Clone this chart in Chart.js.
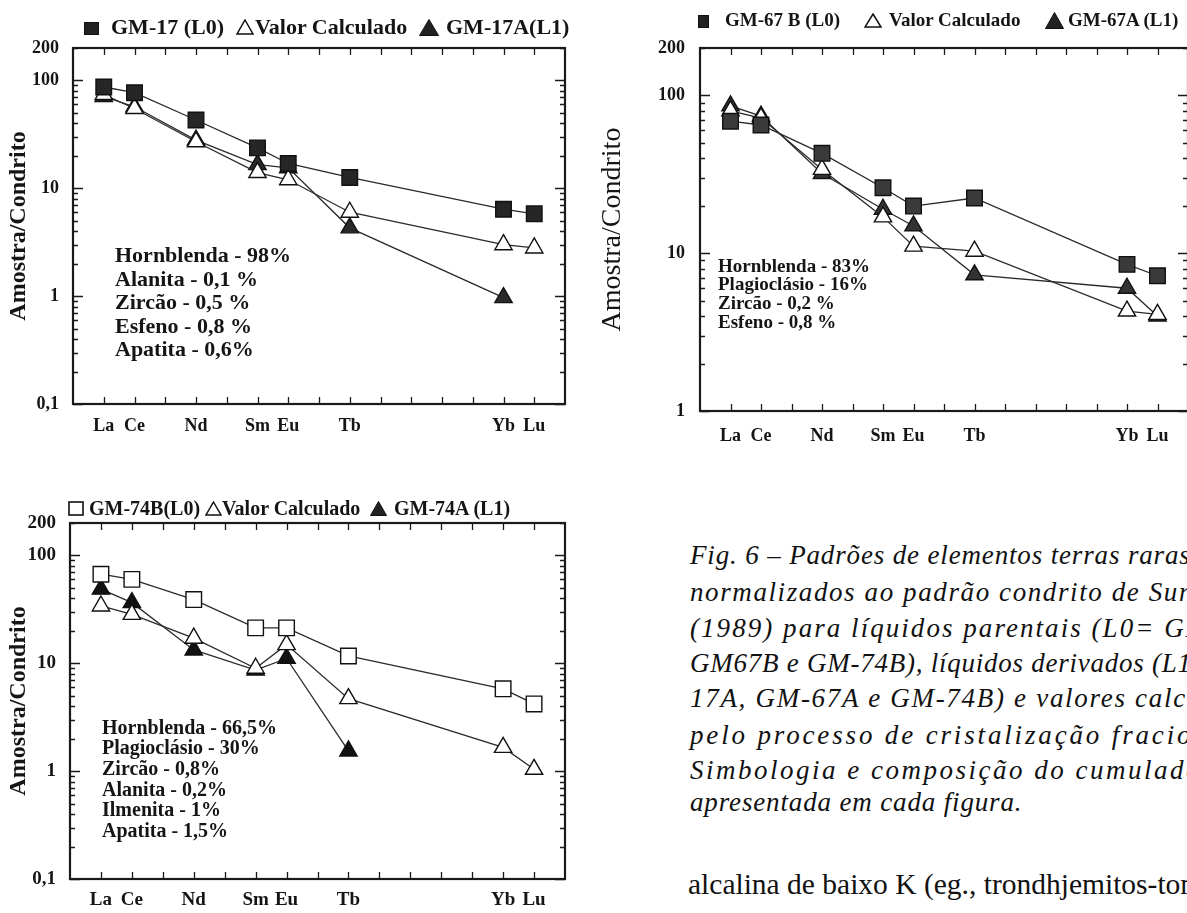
<!DOCTYPE html>
<html><head><meta charset="utf-8">
<script src="https://cdn.jsdelivr.net/npm/chart.js@4.4.1/dist/chart.umd.min.js"></script>
<style>
html,body{margin:0;padding:0;background:#fff;overflow:hidden;width:1187px;height:913px;position:relative;}
canvas{position:absolute;}
.lgt{position:absolute;font-family:"Liberation Serif",serif;font-weight:bold;white-space:nowrap;color:#151515;}
.mk{position:absolute;}
.note{position:absolute;font-family:"Liberation Serif",serif;font-weight:bold;white-space:nowrap;color:#151515;}
.cap{position:absolute;left:690px;font-family:"Liberation Serif",serif;font-style:italic;font-size:27px;line-height:35px;white-space:nowrap;color:#111;}
.body{position:absolute;left:688px;font-family:"Liberation Serif",serif;font-size:29.5px;line-height:35px;white-space:nowrap;color:#111;}
</style></head><body>
<canvas id="c17" width="600" height="450" style="left:0;top:0"></canvas>
<canvas id="c67" width="610" height="455" style="left:592px;top:0"></canvas>
<canvas id="c74" width="600" height="453" style="left:0;top:460px"></canvas>
<div id="overlay"></div>
<script>
// ---------- data ----------
const elements = ['La','Ce','Nd','Sm','Eu','Tb','Yb','Lu'];
const atomicNumbers = [57,58,60,62,63,65,70,71];
const xTickValues = [57,58,59,60,61,62,63,64,65,66,67,68,69,70,71];

// GM-17 (top left)
const labels17 = ['GM-17 (L0)','Valor Calculado','GM-17A(L1)'];
const gm17_L0   = [87, 77, 43, 23.7, 17, 12.6, 6.4, 5.8];
const gm17_calc = [74, 55, 27, 14, 12, 6.0, 3.0, 2.8];
const gm17A_L1  = [71, 57, 28, 16.6, 15.5, 4.3, 0.97, null];
const notes17 = ['Hornblenda - 98%','Alanita - 0,1  %','Zircão - 0,5 %','Esfeno - 0,8 %','Apatita - 0,6%'];

// GM-67 (top right)
const labels67 = ['GM-67 B (L0)','Valor Calculado','GM-67A (L1)'];
const gm67B_L0  = [68.7, 65, 43, 26, 19.9, 22.4, 8.5, 7.2];
const gm67_calc = [80, 72, 34, 17, 11.1, 10.3, 4.3, 4.1];
const gm67A_L1  = [86, 74, 32, 19, 14.9, 7.3, 6.0, 4.0];
const notes67 = ['Hornblenda - 83%','Plagioclásio - 16%','Zircão - 0,2 %','Esfeno - 0,8 %'];

// GM-74 (bottom left)
const labels74 = ['GM-74B(L0)','Valor Calculado','GM-74A (L1)'];
const gm74B_L0  = [67, 60, 39, 21.3, 21.3, 11.7, 5.8, 4.2];
const gm74_calc = [34, 28.4, 17.1, 9.0, 14.9, 4.7, 1.66, 1.04];
const gm74A_L1  = [48.7, 36.5, 13.3, 8.66, 11.1, 1.54, null, null];
const notes74 = ['Hornblenda - 66,5%','Plagioclásio - 30%','Zircão - 0,8%','Alanita - 0,2%','Ilmenita - 1%','Apatita - 1,5%'];

const yTicksA = [0.1, 1, 10, 100, 200];
const yLabelsA = ['0,1','1','10','100','200'];
const yTicksB = [1, 10, 100, 200];
const yLabelsB = ['1','10','100','200'];

const yTitle = 'Amostra/Condrito';

const captionLines = [
 'Fig. 6 – Padrões de elementos terras raras',
 'normalizados ao padrão condrito de Sun &',
 '(1989) para líquidos parentais (L0= GM-17,',
 'GM67B e GM-74B), líquidos derivados (L1= GM-',
 '17A, GM-67A e GM-74B) e valores calculados',
 'pelo processo de cristalização fracionada.',
 'Simbologia e composição do cumulado é',
 'apresentada em cada figura.'
];
const bodyLine = 'alcalina de baixo K (eg., trondhjemitos-tonalitos';

// ---------- helpers ----------
const pts = vals => atomicNumbers.map((x,i)=>({x:x, y:vals[i]})).filter(p=>p.y!=null);

const frameTicks = {
  id:'frameTicks',
  beforeDatasetsDraw(chart){
    const {ctx, chartArea:a, scales:{x,y}} = chart;
    ctx.save();
    ctx.strokeStyle='#1a1a1a';
    ctx.lineWidth=1.3;
    ctx.beginPath();
    const lo=Math.floor(Math.log10(y.min)+1e-9), hi=Math.ceil(Math.log10(y.max)-1e-9);
    for(let d=lo; d<hi; d++){
      for(let m=1;m<=9;m++){
        const v=m*Math.pow(10,d);
        if(v<y.min*0.999||v>y.max*1.001) continue;
        const py=Math.round(y.getPixelForValue(v))+0.5;
        const len = m===1?10:5;
        ctx.moveTo(a.left,py); ctx.lineTo(a.left+len,py);
        ctx.moveTo(a.right,py); ctx.lineTo(a.right-len,py);
      }
    }
    x.ticks.forEach(t=>{
      const px=Math.round(x.getPixelForValue(t.value))+0.5;
      ctx.moveTo(px,a.bottom); ctx.lineTo(px,a.bottom-7);
      ctx.moveTo(px,a.top); ctx.lineTo(px,a.top+7);
    });
    ctx.stroke();
    ctx.lineWidth=2.2;
    ctx.strokeRect(a.left,a.top,a.right-a.left,a.bottom-a.top);
    ctx.restore();
  }
};

function ds(label, vals, style, fill, radius){
  return {
    label:label, data:pts(vals),
    borderColor:'#2a2a2a', borderWidth:1.3,
    pointStyle:style, pointRadius:radius, pointHoverRadius:radius,
    pointBackgroundColor:fill, pointBorderColor:'#111', pointBorderWidth:1.4,
    fill:false, tension:0
  };
}

function makeChart(id, cfg){
  new Chart(document.getElementById(id), {
    type:'line',
    data:{datasets:cfg.datasets},
    plugins:[frameTicks],
    options:{
      responsive:false, animation:false, devicePixelRatio:1,
      layout:{padding:{top:cfg.padTop, right:cfg.padRight, left:0, bottom:0}},
      plugins:{legend:{display:false}, tooltip:{enabled:false}},
      scales:{
        x:{type:'linear', min:56, max:72,
          afterBuildTicks:s=>{s.ticks = xTickValues.map(v=>({value:v}));},
          afterFit:s=>{s.height = cfg.bottomH;},
          grid:{display:false, drawTicks:false}, border:{display:false},
          ticks:{autoSkip:false, maxRotation:0, padding:cfg.xPad, color:'#151515',
            font:{family:'"Liberation Serif", serif', size:cfg.xFont, weight:'bold'},
            callback:(v)=>{const i=atomicNumbers.indexOf(v); return i>=0?elements[i]:'';}}
        },
        y:{type:'logarithmic', min:cfg.yTicks[0], max:200,
          afterBuildTicks:s=>{s.ticks = cfg.yTicks.map(v=>({value:v}));},
          afterFit:s=>{s.width = cfg.leftW;},
          grid:{display:false, drawTicks:false}, border:{display:false},
          ticks:{padding:cfg.yPad, color:'#151515',
            font:{family:'"Liberation Serif", serif', size:cfg.yFont, weight:'bold'},
            callback:(v)=>{const i=cfg.yTicks.indexOf(v); return i>=0?cfg.yLabels[i]:'';}},
          title:{display:true, text:yTitle, color:'#151515', padding:{top:4,bottom:4},
            font:{family:'"Liberation Serif", serif', size:cfg.titleSize, weight:cfg.titleWeight}}
        }
      }
    }
  });
}

makeChart('c17', {
  datasets:[
    ds(labels17[0], gm17_L0, 'rect', '#262626', 11),
    ds(labels17[1], gm17_calc, 'triangle', '#ffffff', 10),
    ds(labels17[2], gm17A_L1, 'triangle', '#2a2a2a', 10)
  ],
  padTop:48, padRight:35, bottomH:46, leftW:73, xPad:12, yPad:14,
  xFont:18, yFont:18, titleSize:24, titleWeight:'bold', yTicks:yTicksA, yLabels:yLabelsA
});
makeChart('c67', {
  datasets:[
    ds(labels67[0], gm67B_L0, 'rect', '#3a3a3a', 11),
    ds(labels67[1], gm67_calc, 'triangle', '#ffffff', 10),
    ds(labels67[2], gm67A_L1, 'triangle', '#333333', 10)
  ],
  padTop:48, padRight:14, bottomH:44, leftW:108, xPad:15, yPad:15,
  xFont:18, yFont:18, titleSize:28, titleWeight:'normal', yTicks:yTicksB, yLabels:yLabelsB
});
makeChart('c74', {
  datasets:[
    ds(labels74[0], gm74B_L0, 'rect', '#ffffff', 11),
    ds(labels74[1], gm74_calc, 'triangle', '#ffffff', 10),
    ds(labels74[2], gm74A_L1, 'triangle', '#111111', 10)
  ],
  padTop:63, padRight:35, bottomH:34, leftW:70, xPad:10, yPad:14,
  xFont:19, yFont:19, titleSize:24, titleWeight:'bold', yTicks:yTicksA, yLabels:yLabelsA
});

// ---------- legends / notes / caption (HTML text) ----------
const ov = document.getElementById('overlay');
function marker(kind, left, cy, w, h){
  let inner='';
  if(kind==='sqFill') inner=`<rect x="0.5" y="0.5" width="${w-1}" height="${h-1}" fill="#222" stroke="#111"/>`;
  if(kind==='sqOpen') inner=`<rect x="1" y="1" width="${w-2}" height="${h-2}" fill="#fff" stroke="#111" stroke-width="1.6"/>`;
  if(kind==='triOpen') inner=`<polygon points="${w/2},1 ${w-1},${h-1} 1,${h-1}" fill="#fff" stroke="#111" stroke-width="1.5"/>`;
  if(kind==='triFill') inner=`<polygon points="${w/2},0.5 ${w-0.5},${h-0.5} 0.5,${h-0.5}" fill="#222" stroke="#111" stroke-width="1"/>`;
  const d=document.createElement('div');
  d.className='mk'; d.style.left=left+'px'; d.style.top=(cy-h/2)+'px';
  d.innerHTML=`<svg width="${w}" height="${h}">${inner}</svg>`;
  ov.appendChild(d);
}
function text(cls, str, left, cy, size, lh){
  const d=document.createElement('div');
  d.className=cls; d.textContent=str;
  d.style.left=left+'px'; d.style.top=(cy-lh/2)+'px';
  d.style.fontSize=size+'px'; d.style.lineHeight=lh+'px';
  ov.appendChild(d);
}
function legend(labels, kinds, marks, texts, cy, size){
  for(let i=0;i<3;i++){
    marker(kinds[i], marks[i][0], cy, marks[i][1], marks[i][2]);
    text('lgt', labels[i], texts[i], cy, size, size*1.2);
  }
}
legend(labels17, ['sqFill','triOpen','triFill'], [[84,15,13],[236,18,16],[419,20,17]], [111,255,446], 27, 22);
legend(labels67, ['sqFill','triOpen','triFill'], [[698,11,13],[864,18,15],[1045,19,17]], [725,889,1068], 20, 19);
legend(labels74, ['sqOpen','triOpen','triFill'], [[68,16,15],[205,17,15],[370,17,15]], [89,222,394], 508, 20);

function notes(arr, left, cy0, lh, size){
  arr.forEach((s,i)=>text('note', s, left, cy0+i*lh, size, lh));
}
notes(notes17, 115, 255, 23.5, 22);
notes(notes67, 718, 266, 18.7, 19);
notes(notes74, 102, 727, 20.6, 20);

const capCenters = [560,597,633,668,703,740,775,807];
const capSpacing = [0.85,1.6,2.05,0.75,1.7,2.85,2.5,0.85];
captionLines.forEach((s,i)=>{
  const d=document.createElement('div');
  d.className='cap'; d.textContent=s;
  d.style.top=(capCenters[i]-22)+'px';
  d.style.letterSpacing=capSpacing[i]+'px';
  ov.appendChild(d);
});
const b=document.createElement('div');
b.className='body'; b.textContent=bodyLine; b.style.top=(890-23)+'px';
ov.appendChild(b);
</script>
</body></html>
